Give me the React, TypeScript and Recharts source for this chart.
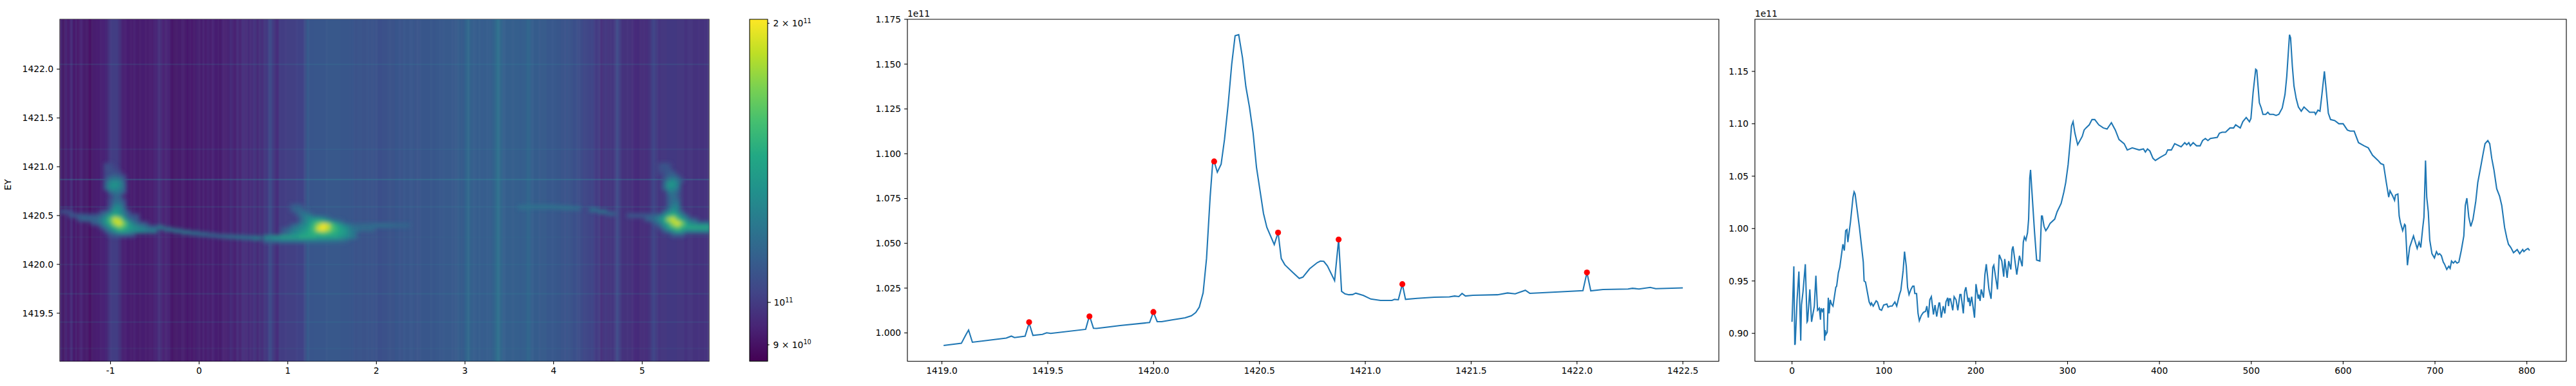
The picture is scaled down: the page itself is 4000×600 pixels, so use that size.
import React from "react";
import { ComposedChart, ScatterChart, Scatter, Line, XAxis, YAxis, ReferenceArea } from "recharts";

const FONT = "'DejaVu Sans', sans-serif";
const FS = 13.89;
const BLUE = "#1f77b4";

// Third panel: column index, value (1e11). The same values set the heatmap's columns.
const rightPoints: [number, number][] = [
[0,.911],[2,.964],[3,.889],[3.5,.890],[5.5,.932],[7.5,.959],[9.5,.893],[10.3,.927],[12,.940],[14.5,.966],[16.4,.911],[17,.912],[19.4,.942],[21.3,.911],[24.3,.926],[26,.955],[27.8,.922],[29.7,.924],[31,.913],[31.6,.924],[33,.921],[34.4,.924],[35.5,.893],[36,.903],[37,.899],[38.3,.901],[39.5,.934],[40.4,.919],[41.6,.932],[43,.928],[44.6,.926],[47.7,.944],[48.6,.945],[50.5,.958],[52,.963],[55.4,.985],[57,.979],[58.4,.998],[59.8,.999],[60.8,.987],[63.6,1.006],[66.4,1.030],[67.6,1.035],[68.7,1.033],[73.4,1.001],[75.7,.983],[77.6,.968],[78.5,.950],[80,.949],[84,.930],[85.6,.927],[86.5,.929],[88.4,.926],[91.6,.931],[93,.930],[95.4,.923],[97.5,.922],[99.8,.927],[103.3,.928],[104.5,.925],[107,.926],[109,.926],[112,.930],[114,.926],[117,.937],[118.5,.941],[121,.960],[122.5,.978],[124.4,.964],[125.8,.944],[127.4,.937],[129.5,.942],[131.4,.945],[132.8,.945],[133.7,.938],[135.6,.938],[137.2,.919],[138.6,.912],[140.7,.917],[143,.920],[145.4,.921],[146.8,.926],[148.4,.915],[150,.932],[151.7,.935],[154,.918],[155.7,.927],[157.5,.916],[160,.929],[160.8,.929],[162.5,.915],[164.6,.926],[166.4,.919],[167.6,.930],[169.5,.934],[170.4,.926],[171.3,.933],[172.5,.933],[175,.922],[176.5,.935],[178.6,.932],[180.5,.922],[182.8,.937],[184,.937],[186.5,.919],[188,.940],[189.3,.944],[191.7,.930],[192.8,.934],[193.8,.926],[195.6,.935],[198.7,.915],[200.3,.947],[202.7,.933],[203.4,.937],[204.8,.931],[206,.942],[208.5,.934],[210,.956],[211.5,.966],[214.4,.942],[216.7,.933],[218.6,.963],[219.7,.965],[223.7,.942],[225.6,.975],[228.4,.969],[230.5,.954],[231.6,.971],[234.2,.953],[235.9,.969],[238.2,.961],[239.6,.980],[240.6,.983],[244.7,.956],[247.6,.974],[250.6,.964],[251.8,.987],[253,.992],[254.6,.989],[256.4,.996],[257.6,1.009],[258.8,1.048],[259.7,1.056],[261,1.038],[264,.997],[266.3,.970],[269.8,.969],[271.6,1.012],[272.5,1.012],[274.4,1.002],[276.3,.998],[278.6,1.001],[281,1.005],[286,1.009],[288.6,1.016],[293,1.024],[296,1.035],[298,1.044],[300.6,1.061],[303,1.084],[304.3,1.098],[306,1.102],[308,1.091],[311,1.080],[316,1.088],[318,1.094],[320,1.096],[323.6,1.099],[326.6,1.104],[329.6,1.104],[334,1.099],[339,1.096],[343,1.095],[347.7,1.101],[352,1.094],[356,1.085],[361.6,1.081],[365,1.075],[370.4,1.077],[378,1.075],[382.6,1.076],[384.7,1.073],[387,1.076],[389.6,1.074],[393,1.067],[395.6,1.065],[400.8,1.068],[407,1.071],[409,1.075],[413,1.075],[416.6,1.081],[423.6,1.078],[427.6,1.082],[429.7,1.080],[432,1.082],[433.7,1.079],[436.7,1.082],[440.4,1.079],[444.3,1.079],[447,1.084],[450,1.086],[452.8,1.084],[455.5,1.086],[463,1.087],[465.3,1.091],[468.3,1.092],[472,1.092],[476.8,1.096],[480.8,1.096],[483,1.099],[488,1.096],[490.8,1.102],[494.5,1.106],[498,1.102],[499.6,1.105],[502,1.130],[504.8,1.152],[506,1.151],[508.8,1.120],[510.9,1.115],[512.7,1.109],[515.8,1.109],[518,1.111],[520,1.109],[524,1.109],[527,1.108],[530,1.109],[533.7,1.115],[536.7,1.128],[538.6,1.145],[541.6,1.185],[542.8,1.182],[544.7,1.155],[546.5,1.136],[548.9,1.124],[551.3,1.116],[554.4,1.112],[557.4,1.116],[563.5,1.111],[569,1.111],[570,1.109],[572.6,1.113],[574.8,1.112],[576.9,1.128],[579.6,1.150],[581.8,1.130],[583.9,1.110],[586.3,1.104],[590.9,1.103],[595.4,1.100],[600,1.100],[604.6,1.094],[607.6,1.093],[612,1.093],[616.7,1.082],[622.8,1.079],[627.4,1.077],[632,1.070],[638,1.065],[641,1.062],[644,1.061],[647,1.044],[649.6,1.030],[651,1.036],[654,1.031],[656,1.027],[657,1.032],[659.6,1.033],[661,1.012],[662.3,1.006],[664.8,.998],[666.9,1.004],[667.8,1.003],[670,.965],[672.4,.982],[676.6,.993],[680.6,.981],[682.7,.987],[684.5,.982],[686.7,1.001],[688,1.011],[689.7,1.065],[691,1.030],[692.7,1.016],[694.3,.989],[696.7,.976],[699.4,.972],[701.6,.978],[703.4,.975],[705,.976],[707,.974],[709,.968],[710.4,.966],[712.8,.961],[715,.964],[716.5,.962],[718,.969],[720,.967],[722,.969],[724,.967],[726,.968],[728.6,.979],[731.4,.993],[733,1.022],[734.7,1.029],[736.8,1.011],[739,1.002],[741.4,1.009],[744.4,1.026],[746.6,1.044],[749.6,1.058],[752.7,1.073],[754.5,1.081],[757.5,1.084],[759.6,1.081],[761.8,1.067],[764.2,1.056],[767.2,1.038],[770.3,1.031],[772.7,1.022],[775.8,1.001],[778.2,.991],[780,.985],[782.5,.982],[785.5,.977],[789.5,.980],[792.2,.976],[795.5,.980],[796.8,.978],[799.2,.980],[801.3,.981],[803,.979],
];

// Heatmap columns whose colour differs from the mean above, because the bright patches raise that mean
const hotColumnRanges: [number, number][] = [[45, 84], [272, 356], [740, 776]];
const hotColumnValues: [number, number][] = [
[46,.93],[52,.94],[58,.95],[60,.985],[64,1.005],[70,1.005],[74,.97],[78,.935],[84,.93],
[273,1.005],[285,1.01],[300,1.02],[304,1.06],[306,1.105],[309,1.08],[320,1.085],[340,1.09],[356,1.085],
[741,.985],[746,.99],[757,.995],[770,.99],[776,.98],
];

// Middle panel: EY, value (1e11)
const middlePoints: [number, number][] = [
[1419.008,.9930],[1419.092,.9942],[1419.113,.9989],[1419.126,1.0016],[1419.144,.9948],[1419.304,.9971],[1419.328,.9982],[1419.343,.9974],[1419.393,.9982],[1419.412,1.0055],[1419.43,.9986],[1419.475,.9992],[1419.495,1.0001],[1419.514,.9997],[1419.679,1.002],[1419.697,1.0096],[1419.716,1.0026],[1419.731,1.0025],[1419.842,1.0041],[1419.981,1.0058],[1419.999,1.0115],[1420.017,1.0063],[1420.038,1.0063],[1420.087,1.0073],[1420.149,1.0084],[1420.179,1.0096],[1420.199,1.0114],[1420.216,1.0144],[1420.234,1.0224],[1420.25,1.0415],[1420.267,1.0757],[1420.279,1.0948],[1420.286,1.0957],[1420.301,1.0897],[1420.319,1.0942],[1420.335,1.108],[1420.352,1.1272],[1420.369,1.1499],[1420.385,1.1658],[1420.402,1.1664],[1420.42,1.1535],[1420.436,1.1373],[1420.453,1.1259],[1420.47,1.1116],[1420.486,1.0924],[1420.503,1.0792],[1420.519,1.0667],[1420.535,1.0589],[1420.57,1.0493],[1420.588,1.056],[1420.603,1.0415],[1420.62,1.038],[1420.656,1.0339],[1420.688,1.0304],[1420.705,1.0311],[1420.737,1.0358],[1420.773,1.0392],[1420.788,1.0401],[1420.804,1.0399],[1420.821,1.0374],[1420.855,1.0292],[1420.874,1.0521],[1420.888,1.0232],[1420.904,1.0218],[1420.922,1.0213],[1420.94,1.0214],[1420.955,1.0222],[1420.991,1.0209],[1421.026,1.0189],[1421.072,1.0181],[1421.126,1.0181],[1421.138,1.0187],[1421.156,1.0185],[1421.175,1.0272],[1421.19,1.0187],[1421.245,1.0193],[1421.326,1.0199],[1421.397,1.0201],[1421.422,1.0206],[1421.442,1.0203],[1421.457,1.022],[1421.473,1.0206],[1421.508,1.021],[1421.625,1.0213],[1421.672,1.0223],[1421.708,1.0218],[1421.756,1.0238],[1421.777,1.0221],[1421.913,1.0229],[1422.028,1.0236],[1422.047,1.0337],[1422.065,1.0235],[1422.123,1.0242],[1422.241,1.0245],[1422.262,1.0249],[1422.293,1.0245],[1422.346,1.0254],[1422.372,1.0247],[1422.5,1.0251],
];

// Red markers on the middle panel
const peakPoints: [number, number][] = [
[1419.412,1.0060],[1419.697,1.0092],[1419.999,1.0117],[1420.286,1.0957],[1420.588,1.0560],[1420.874,1.0521],[1421.175,1.0272],[1422.047,1.0337],
];

// Heatmap: faint rows at those energies [EY, strength]
const rowLines: [number, number][] = [
[1419.14,.08],[1419.41,.14],[1419.7,.16],[1420.0,.12],[1420.28,.08],[1420.59,.16],[1420.87,.32],[1421.18,.12],[1422.05,.16],
];

// Heatmap bright patches. Row format: [EY, first column, values in 1e10 ...]; columns step 0.05, rows step 0.04
const leftPatchStart = -1.55;
const leftPatch: number[][] = [
[1421.02,10,10.5,10.5],
[1420.98,10,10.6,10.6,10.3],
[1420.94,10,10.3,10.6,10.6,10.3],
[1420.90,10,10.5,11,11.5,11,10.5],
[1420.86,10,11,12.5,12.5,12.5,11],
[1420.82,10,11.5,13,13.5,13,11.5],
[1420.78,10,11.5,13,13,12.5,11.5],
[1420.74,11,11.5,12,12,11],
[1420.70,12,11.5,11],
[1420.66,11,10.5,11.5,11.5,10.5],
[1420.62,11,10.5,12,12,11],
[1420.58,11,11,13,13,11.5],
[1420.54,0,10.8,10.8,10.5,0,0,0,0,0,0,10.5,11,12,13.5,13,12,10.8],
[1420.50,2,11,11,11.2,11,10.8,10.8,11,11.5,12.5,14,15,14,12.5,11,10.8,10.6],
[1420.46,4,11,11.5,11.5,11.5,11.5,12.5,13.5,16,19,18,14.5,12,11.2,10.8],
[1420.42,7,10.8,11.2,12,13.5,15,18,19.5,17,14,12.5,11.5,11,10.6],
[1420.38,9,11,12,13.5,15,16.5,15.5,14,13.5,13,12.5,12,11.5,11.2],
[1420.34,10,11,12,13,14,14,13.5,13,13,12.8,12.5,12.2,12.5],
[1420.30,11,10.6,11,11.2,11.2,11,10.8],
];

const middlePatchStart = 0.75;
const middlePatch: number[][] = [
[1420.60,6,11,11.2,11],
[1420.56,6,11,11.5,11.5,11],
[1420.52,7,11,11.8,12,11.5],
[1420.48,8,11.5,12.5,13,12.5,12.5,12,11.5],
[1420.44,8,11.5,12.5,13.5,14.5,15,15,14,13,12,11.5],
[1420.40,6,11.2,11.8,12.5,13,14,15.5,18,20,19,16,14.5,13.5,12.5,12,11.5,11.5,11.6,11.6,11.7,11.8,11.8,11.8,11.7,11.6,11.5,11.5,11.4],
[1420.36,4,11,11.5,12,12.5,13,13.5,14.5,16,19.5,20,18.5,16,15,14,13.5,12.5,12,11.8,11.6,11.6,11.6],
[1420.32,4,11,11.5,12.5,13,13.5,14,14.5,15,15.5,16,15.5,15,14.5,14,13.5,12.5,12],
[1420.28,0,13,13,13.5,13.5,14,14,14,14,14.5,14.5,14.5,14.5,14,14,14,14,14,13.5,13,12.5,12],
[1420.24,0,11.5,11.5,11.8,11.8,12,12,12,12,12,12,12,12,12,12,12,11.8,11.8,11.6,11.4],
];

const rightPatchStart = 4.7;
const rightPatch: number[][] = [
[1421.02,10,10.6,10.8,10.6],
[1420.98,10,10.6,10.8,10.8],
[1420.94,10,10.4,10.6,11,11],
[1420.90,11,10.6,11.2,11.5,11],
[1420.86,11,11,12.5,13,12,10.8],
[1420.82,11,11.5,13.5,13.5,12.5],
[1420.78,11,11.5,13,13,12],
[1420.74,12,12,12,11.2],
[1420.70,12,11.2,11.8,11],
[1420.66,12,11.2,11.8,11.5],
[1420.62,12,11.2,12,12],
[1420.58,12,11.5,12.8,12.5],
[1420.54,11,11.5,12.5,13.5,12.5,11],
[1420.50,3,11,11,11,11,11,11.2,11.5,12,13,14.5,15.5,14,12.5,11.2],
[1420.46,7,11,11.5,12,13,14.5,18,19,16,14,12.5,11.5,11],
[1420.42,9,11.2,12,13.5,15,18,19.5,17,14,13,12.5,12,12,12],
[1420.38,10,11,12.5,14,15.5,16.5,15,14.5,14.5,14.5,14.5,14.5,14.5],
[1420.34,11,11,12,13,14,13.5,12.5,12.5,12.5,12.5,12.5,12.5],
[1420.30,13,11,11,11],
];

// Thin curved band: [x, EY, value in 1e10]; each cell is 0.1 wide
const bandPoints: [number, number, number][] = [
[-0.45,1420.38,12.5],[-0.35,1420.36,12.2],[-0.25,1420.345,12.2],[-0.15,1420.33,12.3],[-0.05,1420.32,12],[0.05,1420.31,11.8],[0.15,1420.30,11.5],[0.25,1420.29,11.5],[0.35,1420.285,11.8],[0.45,1420.28,12],[0.55,1420.275,12],[0.65,1420.27,12.5],
[3.65,1420.585,11.9],[3.75,1420.59,11.9],[3.85,1420.59,11.9],[3.95,1420.59,11.9],[4.05,1420.585,11.9],[4.15,1420.58,11.9],[4.25,1420.575,11.7],[4.45,1420.56,12],[4.55,1420.54,12],[4.65,1420.52,11.4],
];

// Axis ticks
const heatXTicks = [-1, 0, 1, 2, 3, 4, 5];
const heatYTicks = [1419.5, 1420, 1420.5, 1421, 1421.5, 1422];
const colorbarTicks = [0.9, 1, 2];
const middleXTicks = [1419, 1419.5, 1420, 1420.5, 1421, 1421.5, 1422, 1422.5];
const middleYTicks = [1, 1.025, 1.05, 1.075, 1.1, 1.125, 1.15, 1.175];
const rightXTicks = [0, 100, 200, 300, 400, 500, 600, 700, 800];
const rightYTicks = [0.9, 0.95, 1, 1.05, 1.1, 1.15];

// Colour scale (log, 1e11 units)
const V_MIN = 0.864;
const V_MAX = 2.02;
const viridis = ["#440154", "#482475", "#414487", "#355f8d", "#2a788e", "#21918c", "#22a884", "#44bf70", "#7ad151", "#bddf26", "#fde725"];
const hex = (c: string) => [1, 3, 5].map((i) => parseInt(c.slice(i, i + 2), 16));
function colorOf(v: number) {
  const t = Math.max(0, Math.min(1, Math.log(v / V_MIN) / Math.log(V_MAX / V_MIN))) * 10;
  const i = Math.min(9, Math.floor(t));
  const a = hex(viridis[i]);
  const b = hex(viridis[i + 1]);
  const m = a.map((p, k) => Math.round(p + (b[k] - p) * (t - i)));
  return `rgb(${m[0]},${m[1]},${m[2]})`;
}

// Heatmap layout
const HX: [number, number] = [-1.571, 5.754];
const HY: [number, number] = [1419.008, 1422.51];
const PLOT_W = 1008;
const PLOT_H = 531.5;
const pxX = PLOT_W / (HX[1] - HX[0]);
const pxY = PLOT_H / (HY[1] - HY[0]);
const COLUMN_COUNT = 804;
const colX = (i: number) => HX[0] + ((i + 0.5) / COLUMN_COUNT) * (HX[1] - HX[0]);
const midY = (HY[0] + HY[1]) / 2;

const columnPoints = [
  ...rightPoints.filter(([i]) => !hotColumnRanges.some(([a, b]) => i >= a && i <= b)),
  ...hotColumnValues,
].sort((p, q) => p[0] - q[0]);

const columnCells = columnPoints.map(([i, v], k) => {
  const left = k ? (columnPoints[k - 1][0] + i) / 2 : -0.5;
  const right = k < columnPoints.length - 1 ? (columnPoints[k + 1][0] + i) / 2 : COLUMN_COUNT - 0.5;
  const a = colX(left);
  const b = colX(right);
  return { x: (a + b) / 2, y: midY, w: b - a, h: HY[1] - HY[0], fill: colorOf(v), opacity: 1 };
});

const rowCells = rowLines.map(([y, s]) => ({
  x: (HX[0] + HX[1]) / 2, y, w: HX[1] - HX[0], h: 0.014, fill: "#2f8f9a", opacity: s,
}));

function patchCells(rows: number[][], start: number) {
  const out: any[] = [];
  rows.forEach((row) => {
    const [y, first, ...vals] = row;
    vals.forEach((v, c) => {
      if (v > 0) out.push({ x: start + (first + c) * 0.05, y, w: 0.05, h: 0.04, fill: colorOf(v / 10), opacity: 1 });
    });
  });
  return out;
}
const hotCells = [
  ...bandPoints.map(([x, y, v]) => ({ x, y, w: 0.1, h: 0.04, fill: colorOf(v / 10), opacity: 1 })),
  ...patchCells(leftPatch, leftPatchStart),
  ...patchCells(middlePatch, middlePatchStart),
  ...patchCells(rightPatch, rightPatchStart),
];

const CellShape = (p: any) => {
  const d = p.payload;
  const w = d.w * pxX;
  const h = d.h * pxY;
  return <rect x={p.cx - w / 2} y={p.cy - h / 2} width={w + 0.5} height={h + 0.3} fill={d.fill} fillOpacity={d.opacity} stroke="none" />;
};
const PeakDot = (p: any) => <circle cx={p.cx} cy={p.cy} r={4.6} fill="#ff0000" />;

const toRows = (pts: [number, number][]) => pts.map(([x, y]) => ({ x, y }));
const middleTable = toRows(middlePoints);
const peakTable = toRows(peakPoints);
const rightTable = toRows(rightPoints);
const colorbarTable = [{ x: 0, y: V_MIN }, { x: 1, y: V_MAX }];

const tickText = { fill: "#000", fontSize: FS, fontFamily: FONT };
const tickLine = { stroke: "#000", strokeWidth: 1.1 };

const Box = ({ left, width, children }: any) => (
  <div style={{ position: "absolute", left, top: 0, width, height: 600 }}>{children}</div>
);

const ColorbarTick = (p: any) => {
  const v = p.payload.value;
  const len = v === 1 ? 4.86 : 2.78;
  const coef = v === 1 ? "" : `${v === 2 ? 2 : 9} × `;
  const exp = v === 0.9 ? "10" : "11";
  return (
    <g>
      <line x1={p.x} x2={p.x + len} y1={p.y} y2={p.y} stroke="#000" strokeWidth={1.1} />
      <text x={p.x + (v === 1 ? 9.5 : 8.5)} y={p.y + 5} fontFamily={FONT} fontSize={FS} fill="#000">
        {coef}10
        <tspan dy={-5.5} fontSize={9.7}>{exp}</tspan>
      </text>
    </g>
  );
};

const OffsetText = ({ x }: { x: number }) => (
  <text x={x} y={26} fontFamily={FONT} fontSize={FS} fill="#000">1e11</text>
);

export default function App() {
  return (
    <div style={{ position: "absolute", left: 0, top: 0, width: 4000, height: 600, background: "#fff" }}>
      <style>{`.heat-hot{filter:url(#heatBlur)} .heat-cols{filter:url(#colBlur)}`}</style>

      <Box left={0} width={1110}>
        <ScatterChart width={1110} height={600} margin={{ top: 30, right: 9, bottom: 8.5, left: 0 }}>
          <defs>
            <filter id="heatBlur" x="-5%" y="-5%" width="110%" height="110%">
              <feGaussianBlur stdDeviation="3" />
            </filter>
            <filter id="colBlur" x="-1%" y="0" width="102%" height="100%">
              <feGaussianBlur stdDeviation="1 0" />
            </filter>
          </defs>
          <XAxis type="number" dataKey="x" domain={HX} ticks={heatXTicks} allowDataOverflow height={30} tick={tickText} tickLine={tickLine} tickSize={4.86} tickMargin={5} axisLine={false} interval={0} />
          <YAxis type="number" dataKey="y" domain={HY} ticks={heatYTicks} allowDataOverflow width={93} tick={tickText} tickLine={tickLine} tickSize={4.86} tickMargin={5} axisLine={false} interval={0} tickFormatter={(v: number) => v.toFixed(1)} label={{ value: "EY", angle: -90, position: "insideLeft", offset: 12, style: tickText }} />
          <Scatter className="heat-cols" data={columnCells} shape={CellShape} isAnimationActive={false} />
          <Scatter data={rowCells} shape={CellShape} isAnimationActive={false} />
          <Scatter className="heat-hot" data={hotCells} shape={CellShape} isAnimationActive={false} />
          <ReferenceArea x1={HX[0]} x2={HX[1]} y1={HY[0]} y2={HY[1]} fill="none" stroke="#000" strokeWidth={1.1} ifOverflow="visible" />
        </ScatterChart>
      </Box>

      <Box left={1110} width={160}>
        <ComposedChart width={160} height={600} data={colorbarTable} margin={{ top: 30, right: 0, bottom: 38.5, left: 54 }}>
          <defs>
            <linearGradient id="viridisBar" x1="0" y1="1" x2="0" y2="0">
              {viridis.map((c, i) => <stop key={c} offset={`${i * 10}%`} stopColor={c} />)}
            </linearGradient>
          </defs>
          <XAxis type="number" dataKey="x" domain={[0, 1]} allowDataOverflow hide />
          <YAxis type="number" orientation="right" scale="log" domain={[V_MIN, V_MAX]} ticks={colorbarTicks} allowDataOverflow width={78} axisLine={false} tickLine={false} tickSize={0} tickMargin={0} tick={<ColorbarTick />} interval={0} />
          <Line dataKey="y" stroke="none" dot={false} isAnimationActive={false} />
          <ReferenceArea x1={0} x2={1} y1={V_MIN} y2={V_MAX} fill="url(#viridisBar)" fillOpacity={1} stroke="#000" strokeWidth={1.1} ifOverflow="visible" />
        </ComposedChart>
      </Box>

      <Box left={1320} width={1360}>
        <ComposedChart width={1360} height={600} margin={{ top: 30, right: 11, bottom: 8.5, left: 0 }}>
          <XAxis type="number" dataKey="x" domain={[1418.837, 1422.67]} ticks={middleXTicks} allowDataOverflow height={30} tick={tickText} tickLine={tickLine} tickSize={4.86} tickMargin={5} axisLine={false} interval={0} tickFormatter={(v: number) => v.toFixed(1)} />
          <YAxis type="number" domain={[0.9842, 1.175]} ticks={middleYTicks} allowDataOverflow width={89} tick={tickText} tickLine={tickLine} tickSize={4.86} tickMargin={5} axisLine={false} interval={0} tickFormatter={(v: number) => v.toFixed(3)} />
          <Line data={middleTable} dataKey="y" type="linear" stroke={BLUE} strokeWidth={2.08} dot={false} isAnimationActive={false} />
          <Scatter data={peakTable} dataKey="y" shape={PeakDot} isAnimationActive={false} />
          <ReferenceArea x1={1418.837} x2={1422.67} y1={0.9842} y2={1.175} fill="none" stroke="#000" strokeWidth={1.1} ifOverflow="visible" />
          <OffsetText x={89} />
        </ComposedChart>
      </Box>

      <Box left={2670} width={1330}>
        <ComposedChart width={1330} height={600} margin={{ top: 30, right: 15, bottom: 8.5, left: 0 }}>
          <XAxis type="number" dataKey="x" domain={[-40.4, 843]} ticks={rightXTicks} allowDataOverflow height={30} tick={tickText} tickLine={tickLine} tickSize={4.86} tickMargin={5} axisLine={false} interval={0} />
          <YAxis type="number" domain={[0.8734, 1.1997]} ticks={rightYTicks} allowDataOverflow width={55} tick={tickText} tickLine={tickLine} tickSize={4.86} tickMargin={5} axisLine={false} interval={0} tickFormatter={(v: number) => v.toFixed(2)} />
          <Line data={rightTable} dataKey="y" type="linear" stroke={BLUE} strokeWidth={2.08} dot={false} isAnimationActive={false} />
          <ReferenceArea x1={-40.4} x2={843} y1={0.8734} y2={1.1997} fill="none" stroke="#000" strokeWidth={1.1} ifOverflow="visible" />
          <OffsetText x={55} />
        </ComposedChart>
      </Box>
    </div>
  );
}
